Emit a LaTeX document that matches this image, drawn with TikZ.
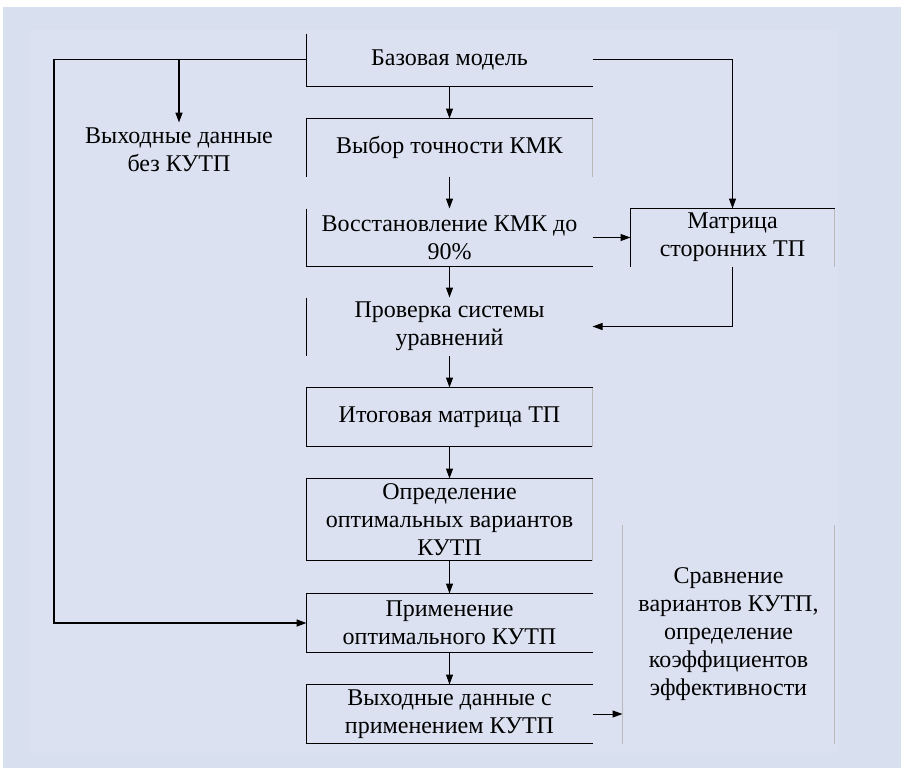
\documentclass[tikz,border=0pt]{standalone}
\usepackage{fontspec}
\setmainfont{Liberation Serif}
\newfontfamily\flowfont{Liberation Serif}
\usepackage{tikz}
\usetikzlibrary{arrows.meta, positioning, calc}
\definecolor{bgouter}{RGB}{216,223,239}
\definecolor{bginner}{RGB}{219,225,240}

\begin{document}
\begin{tikzpicture}[x=1pt, y=-1pt, >={Triangle[length=10pt,width=7pt]}, line width=1pt]
\tikzstyle{every node}=[font=\flowfont\fontsize{24}{28}\selectfont, align=center, inner sep=0pt]
\tikzstyle{stepbox}=[minimum width=285pt, minimum height=57pt]
\tikzstyle{faint}=[draw=gray!55]
\tikzstyle{flow}=[->, line width=1pt]
\tikzstyle{bold}=[->, line width=1.6pt]
% background
\fill[white] (0,0) rectangle (901,769);
\fill[bgouter] (3,7) rectangle (901,768);
\fill[bginner] (30,30) rectangle (838,753);
\useasboundingbox (0,0) rectangle (901,769);
% nodes
\node[stepbox, minimum height=52pt] (base) at (449.5,60)    {Базовая модель};
\node[stepbox]                      (vyb)  at (449.5,147.5) {Выбор точности КМК};
\node[stepbox]                      (vosst) at (449.5,237.5) {Восстановление КМК до\\90\%};
\node[stepbox, minimum width=203pt] (matr) at (732.5,237.5) {Матрица\\сторонних ТП};
\node[stepbox]                      (prov) at (449.5,326.5) {Проверка системы\\уравнений};
\node[stepbox, minimum height=58pt] (itog) at (449.5,417)   {Итоговая матрица ТП};
\node[stepbox, minimum height=81pt] (opr)  at (449.5,519.5) {Определение\\оптимальных вариантов\\КУТП};
\node[stepbox, minimum height=58pt] (prim) at (449.5,623)   {Применение\\оптимального КУТП};
\node[stepbox, minimum height=58pt] (vyh)  at (449.5,714)   {Выходные данные с\\применением КУТП};
\node[minimum width=211pt, minimum height=218pt] (srav) at (728.5,634)
  {Сравнение\\вариантов КУТП,\\определение\\коэффициентов\\эффективности};
\node[inner sep=5pt] (bez) at (179,150) {Выходные данные\\без КУТП};
\coordinate (lc) at (54,59);
% box edges
\draw (base.north west) -- (base.south west) -- (base.south east);
\draw (vyb.south west) -- (vyb.north west) -- (vyb.north east);
\draw[faint] (vyb.north east) -- (vyb.south east);
\draw (vosst.north west) -- (vosst.south west) -- (vosst.south east);
\draw (matr.south west) -- (matr.north west) -- (matr.north east);
\draw[faint] (matr.north east) -- (matr.south east);
\draw (prov.north west) -- (prov.south west);
\draw (itog.north east) -- (itog.north west) -- (itog.south west) -- (itog.south east);
\draw[faint] (itog.north east) -- (itog.south east);
\draw (opr.north east) -- (opr.north west) -- (opr.south west) -- (opr.south east);
\draw[faint] (opr.north east) -- (opr.south east);
\draw (prim.north east) -- (prim.north west) -- (prim.south west) -- (prim.south east);
\draw (vyh.north east) -- (vyh.north west) -- (vyh.south west) -- (vyh.south east);
\draw[faint] (srav.north west) -- (srav.south west);
\draw[faint] (srav.north east) -- (srav.south east);
% connectors
\path (base) edge[flow] (vyb)
      (vyb)  edge[flow] (vosst)
      (vosst) edge[flow] (prov)
      (prov) edge[flow] (itog)
      (itog) edge[flow] (opr)
      (opr)  edge[flow] (prim)
      (prim) edge[flow] (vyh);
\draw[flow] (vosst.east) -- (matr.west);
\draw[flow] (base.east |- lc) -| (matr.north);
\draw[flow] (matr.south) |- (prov.east);
\draw[flow] (vyh.east) -- (vyh.east -| srav.west);
\draw (base.west |- lc) -- (lc);
\draw[bold] (bez.north |- lc) -- (bez.north);
\draw[bold] (lc) |- (prim.west);
\end{tikzpicture}
\end{document}
